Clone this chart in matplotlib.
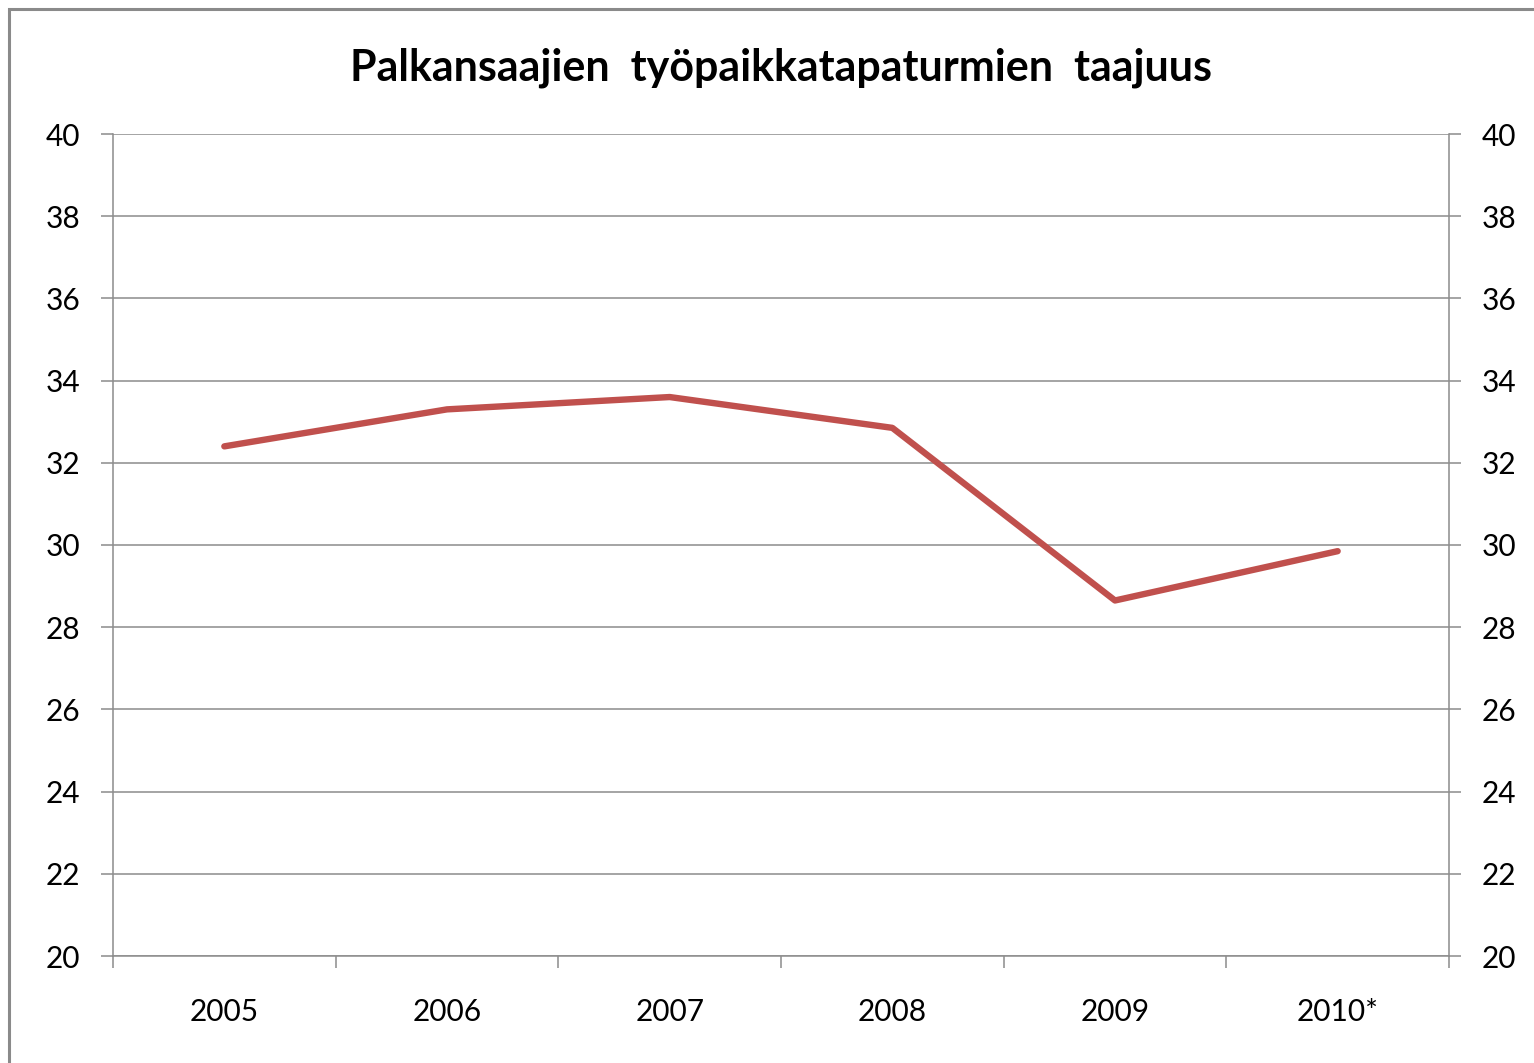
import matplotlib
matplotlib.use("Agg")
import matplotlib.pyplot as plt
from matplotlib.patches import Rectangle

# ----------------------------

years = ["2005", "2006", "2007", "2008", "2009", "2010*"]
taajuus = [32.4, 33.3, 33.6, 32.85, 28.65, 29.85]
y_ticks = [20, 22, 24, 26, 28, 30, 32, 34, 36, 38, 40]

# ----------------------------

plt.rcParams["font.family"] = ["Lato", "DejaVu Sans"]

W, H = 1534, 1063
fig = plt.figure(figsize=(W / 100, H / 100), dpi=100)

# outer chart border (cut off at right and bottom in the original)
fig.patches.append(Rectangle((9 / W, -0.05), 1.1, 1 - 9 / H + 0.05,
                             transform=fig.transFigure, fill=False,
                             edgecolor="#8a8a8a", linewidth=2.2))

ax = fig.add_axes([113 / W, 1 - 956 / H, (1449 - 113) / W, (956 - 134) / H])

x = [i + 0.5 for i in range(len(years))]
ax.plot(x, taajuus, color="#C0504D", linewidth=4.6, solid_capstyle="round",
        solid_joinstyle="round", zorder=3)

ax.set_xlim(0, len(years))
ax.set_ylim(20, 40)
ax.set_yticks(y_ticks)
ax.set_yticklabels([str(v) for v in y_ticks])
ax.grid(axis="y", color="#8c8c8c", linewidth=1.1)
ax.set_axisbelow(True)

# category ticks on boundaries, labels in middle
ax.set_xticks(range(len(years) + 1))
ax.set_xticklabels([])
ax.set_xticks(x, minor=True)
ax.set_xticklabels(years, minor=True, fontsize=21.5)
ax.tick_params(axis="x", which="minor", length=0, pad=30)
ax.tick_params(axis="x", which="major", length=8.5, width=1.1, color="#8c8c8c",
               direction="out")

ax.tick_params(axis="y", length=8.5, width=1.1, color="#8c8c8c", direction="out",
               labelsize=21.5, pad=15)

for side in ["left", "right", "bottom"]:
    ax.spines[side].set_color("#8c8c8c")
    ax.spines[side].set_linewidth(1.1)
ax.spines["top"].set_visible(False)

ax2 = ax.twinx()
ax2.set_ylim(20, 40)
ax2.set_yticks(y_ticks)
ax2.set_yticklabels([str(v) for v in y_ticks])
ax2.tick_params(axis="y", length=8.5, width=1.1, color="#8c8c8c", direction="out",
                labelsize=21.5, pad=15)
for side in ["left", "right", "bottom", "top"]:
    ax2.spines[side].set_visible(False)

fig.text((113 + 1449) / 2 / W, 1 - 68 / H, "Palkansaajien  työpaikkatapaturmien  taajuus",
         ha="center", va="center", fontsize=31, fontweight="bold")

fig.savefig("out.png", dpi=100, facecolor="white")
